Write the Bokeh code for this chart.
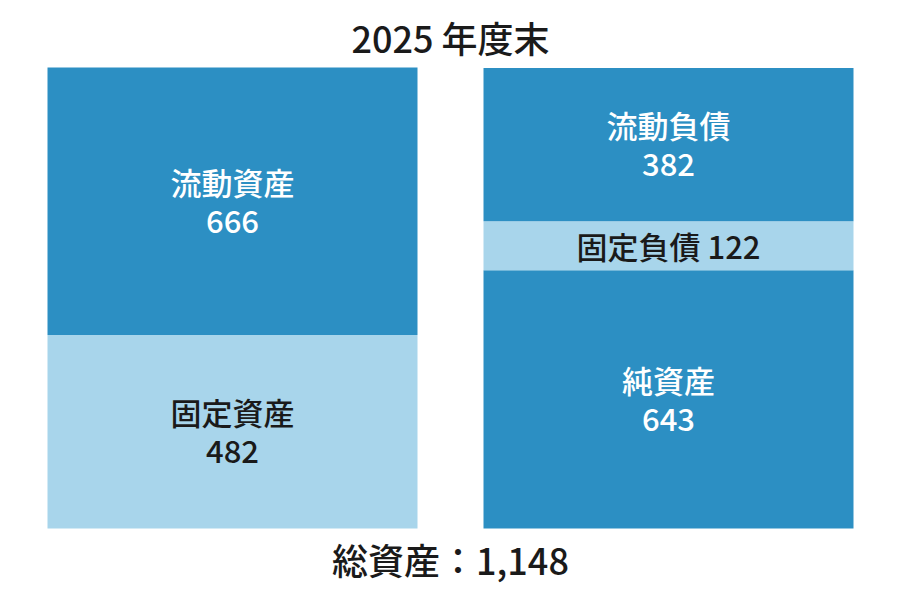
from bokeh.plotting import figure
from bokeh.models import Range1d, ColumnDataSource
from bokeh.core.properties import value
from bokeh.embed import file_html
from bokeh.resources import INLINE

# ---- data ----
title_text = "2025 年度末"
categories = ["資産", "負債・純資産"]
asset_labels = ["固定資産", "流動資産"]          # bottom -> top
asset_values = [482, 666]
liab_labels = ["純資産", "固定負債", "流動負債"]  # bottom -> top
liab_values = [643, 122, 382]
total_label = "総資産：1,148"

# ---- style ----
DARK = "#2c8fc3"
LIGHT = "#a8d5eb"
TEXT_DARK = "#1a1a1a"
FONT = "'Noto Sans CJK JP Medium', 'Noto Sans CJK JP'"
asset_colors = [LIGHT, DARK]
liab_colors = [DARK, LIGHT, DARK]

W, H = 884, 584
px_per_unit = 461 / 1148.0
bottom_px = 528          # distance of value 0 from top of frame
y_start = -(H - bottom_px) / px_per_unit
y_end = bottom_px / px_per_unit
x_step = 436.0
x_start = -232 / x_step
x_end = x_start + W / x_step

p = figure(width=W, height=H, output_backend="svg", toolbar_location=None,
           x_range=Range1d(x_start, x_end),
           y_range=Range1d(y_start, y_end),
           min_border=0, outline_line_color=None)
p.axis.visible = False
p.grid.visible = False
p.background_fill_color = "white"
p.border_fill_color = "white"

bar_w = 370 / x_step
LBL = "31px"

def stack(idx, labels, values, colors):
    bottoms, tops = [], []
    acc = 0
    for v in values:
        bottoms.append(acc)
        acc += v
        tops.append(acc)
    src = ColumnDataSource(dict(x=[idx] * len(values), bottom=bottoms, top=tops,
                                color=colors))
    p.vbar(x="x", bottom="bottom", top="top", width=bar_w, color="color",
           line_color=None, source=src)
    for lab, v, b, t, c in zip(labels, values, bottoms, tops, colors):
        tc = "white" if c == DARK else TEXT_DARK
        mid = (b + t) / 2
        if v < 200:
            p.text(x=[idx], y=[mid], text=[f"{lab} {v}"], text_align="center",
                   text_baseline="middle", text_font=value(FONT),
                   text_font_size=LBL, text_color=tc)
        else:
            p.text(x=[idx], y=[mid], text=[lab], text_align="center",
                   text_baseline="middle", y_offset=-20, text_font=value(FONT),
                   text_font_size=LBL, text_color=tc)
            p.text(x=[idx], y=[mid], text=[str(v)], text_align="center",
                   text_baseline="middle", y_offset=20, text_font=value(FONT),
                   text_font_size=LBL, text_color=tc)
    return acc

t1 = stack(0, asset_labels, asset_values, asset_colors)
t2 = stack(1, liab_labels, liab_values, liab_colors)
top = max(t1, t2)

p.text(x=[0.5], y=[top], text=[title_text], text_align="center",
       text_baseline="middle", y_offset=-31, text_font=value(FONT),
       text_font_size="36px", text_color=TEXT_DARK)
p.text(x=[0.5], y=[0], text=[total_label], text_align="center",
       text_baseline="middle", y_offset=30, text_font=value(FONT),
       text_font_size="36px", text_color=TEXT_DARK)

open("out.html", "w").write(file_html(p, INLINE))
